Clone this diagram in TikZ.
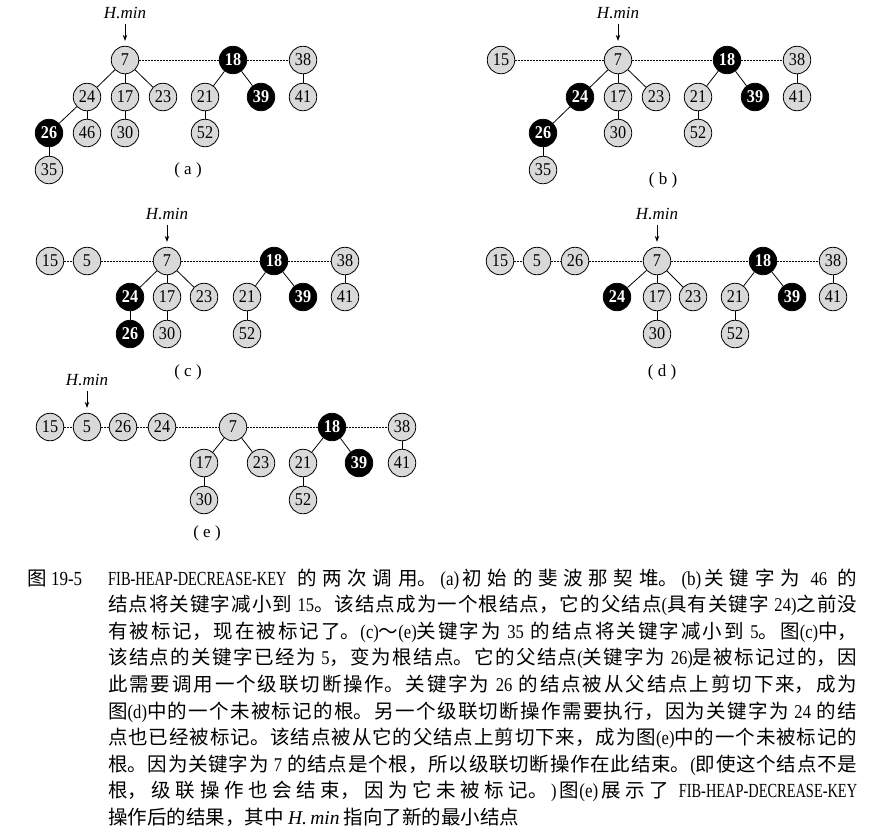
\documentclass[tikz,border=0pt]{standalone}
\usepackage{fontspec}
\setmainfont{Liberation Serif}
\newfontfamily\hzfont{Noto Sans CJK SC}
\newfontfamily\latfont[FakeStretch=0.72]{Liberation Serif}
\newfontfamily\digfont[FakeStretch=0.85]{Liberation Serif}
\newfontfamily\numfont[FakeStretch=0.9]{Liberation Serif}
\usepackage{tikz}
\usetikzlibrary{positioning, arrows.meta}
\XeTeXlinebreaklocale "zh"
\XeTeXlinebreakskip = 0pt plus 2pt

\begin{document}
\begin{tikzpicture}[x=1pt, y=-1pt,
    gnode/.style={circle, draw, fill=black!15, line width=0.8pt, minimum size=27.5pt, inner sep=0pt, font=\numfont\fontsize{18}{18}\selectfont},
    bnode/.style={gnode, fill=black, text=white, font=\numfont\bfseries\fontsize{18}{18}\selectfont},
    tline/.style={line width=0.8pt},
    rline/.style={line width=0.6pt, dash pattern=on 1.8pt off 1.2pt},
    hmin/.style={inner sep=0pt, font=\rmfamily\itshape\fontsize{17}{17}\selectfont},
    hptr/.style={-{Stealth[length=6pt,width=4.5pt]}, line width=0.8pt, shorten <=5pt, shorten >=5pt},
    plabel/.style={inner sep=0pt, font=\rmfamily\fontsize{17}{17}\selectfont},
    capt/.style={inner sep=0pt, anchor=base west, font=\hzfont\fontsize{19.5}{26.6}\selectfont}]
    \useasboundingbox (0,0) rectangle (881,831);
    % (a) 初始的斐波那契堆
    \foreach \n/\x/\y in {7/125/60, 38/303/60, 24/87/97, 17/125/97, 23/163/97, 21/205/97, 41/303/97, 46/87/133, 30/125/133, 52/205/133, 35/49/170} {
        \node[gnode] (a\n) at (\x,\y) {\n};
    }
    \foreach \n/\x/\y in {18/233/60, 39/261/97, 26/49/133} {
        \node[bnode] (a\n) at (\x,\y) {\n};
    }
    \foreach \p/\c in {7/24, 7/17, 7/23, 18/21, 18/39, 38/41, 24/26, 24/46, 17/30, 21/52, 26/35} {
        \draw[tline] (a\p) -- (a\c);
    }
    \foreach \p/\c in {7/18, 18/38} {
        \draw[rline] (a\p) -- (a\c);
    }
    \node[hmin, above=27pt of a7] (ahm) {H.min};
    \draw[hptr] (ahm) -- (a7);
    \node[plabel] (alab) at (188,170) {( a )};
    % (b) 46 减小到 15
    \foreach \n/\x/\y in {15/501/60, 7/618/60, 38/797/60, 17/618/97, 23/656/97, 21/698/97, 41/797/97, 30/618/133, 52/698/133, 35/543/170} {
        \node[gnode] (b\n) at (\x,\y) {\n};
    }
    \foreach \n/\x/\y in {18/727/60, 24/580/97, 39/755/97, 26/543/133} {
        \node[bnode] (b\n) at (\x,\y) {\n};
    }
    \foreach \p/\c in {7/24, 7/17, 7/23, 18/21, 18/39, 38/41, 24/26, 17/30, 21/52, 26/35} {
        \draw[tline] (b\p) -- (b\c);
    }
    \foreach \p/\c in {15/7, 7/18, 18/38} {
        \draw[rline] (b\p) -- (b\c);
    }
    \node[hmin, above=27pt of b7] (bhm) {H.min};
    \draw[hptr] (bhm) -- (b7);
    \node[plabel] (blab) at (663,180) {( b )};
    % (c) 35 减小到 5
    \foreach \n/\x/\y in {15/50/261, 5/87/261, 7/167/261, 38/345/261, 17/167/297, 23/204/297, 21/247/297, 41/345/297, 30/167/334, 52/247/334} {
        \node[gnode] (c\n) at (\x,\y) {\n};
    }
    \foreach \n/\x/\y in {18/274/261, 24/130/297, 39/303/297, 26/130/334} {
        \node[bnode] (c\n) at (\x,\y) {\n};
    }
    \foreach \p/\c in {7/24, 7/17, 7/23, 18/21, 18/39, 38/41, 24/26, 17/30, 21/52} {
        \draw[tline] (c\p) -- (c\c);
    }
    \foreach \p/\c in {15/5, 5/7, 7/18, 18/38} {
        \draw[rline] (c\p) -- (c\c);
    }
    \node[hmin, above=27pt of c7] (chm) {H.min};
    \draw[hptr] (chm) -- (c7);
    \node[plabel] (clab) at (188,372) {( c )};
    % (d) 26 被剪切
    \foreach \n/\x/\y in {15/500/261, 5/537/261, 26/575/261, 7/657/261, 38/833/261, 17/657/297, 23/693/297, 21/735/297, 41/833/297, 30/657/334, 52/735/334} {
        \node[gnode] (d\n) at (\x,\y) {\n};
    }
    \foreach \n/\x/\y in {18/763/261, 24/617/297, 39/792/297} {
        \node[bnode] (d\n) at (\x,\y) {\n};
    }
    \foreach \p/\c in {7/24, 7/17, 7/23, 18/21, 18/39, 38/41, 17/30, 21/52} {
        \draw[tline] (d\p) -- (d\c);
    }
    \foreach \p/\c in {15/5, 5/26, 26/7, 7/18, 18/38} {
        \draw[rline] (d\p) -- (d\c);
    }
    \node[hmin, above=27pt of d7] (dhm) {H.min};
    \draw[hptr] (dhm) -- (d7);
    \node[plabel] (dlab) at (662,372) {( d )};
    % (e) 24 被剪切
    \foreach \n/\x/\y in {15/50/427, 5/87/427, 26/123/427, 24/162/427, 7/233/427, 38/402/427, 17/204/463, 23/261/463, 21/303/463, 41/402/463, 30/204/500, 52/303/500} {
        \node[gnode] (e\n) at (\x,\y) {\n};
    }
    \foreach \n/\x/\y in {18/332/427, 39/359/463} {
        \node[bnode] (e\n) at (\x,\y) {\n};
    }
    \foreach \p/\c in {7/17, 7/23, 18/21, 18/39, 38/41, 17/30, 21/52} {
        \draw[tline] (e\p) -- (e\c);
    }
    \foreach \p/\c in {15/5, 5/26, 26/24, 24/7, 7/18, 18/38} {
        \draw[rline] (e\p) -- (e\c);
    }
    \node[hmin, above=27pt of e5] (ehm) {H.min};
    \draw[hptr] (ehm) -- (e5);
    \node[plabel] (elab) at (207,533) {( e )};
    % 图注
    \node[capt] (capnum) at (27,585) {图 {\digfont\fontsize{20}{20}\selectfont 19-5}};
    \node[capt, text width=749pt, align=justify] (captext) at (108,585) {{\latfont\fontsize{20}{20}\selectfont FIB-HEAP-DECREASE-KEY} 的两次调用。{\digfont\fontsize{20}{20}\selectfont\,(a)\,}初始的斐波那契堆。{\digfont\fontsize{20}{20}\selectfont\,(b)\,}关键字为 {\digfont 46} 的\linebreak
结点将关键字减小到 {\digfont 15}。该结点成为一个根结点，它的父结点{\digfont (}具有关键字 {\digfont 24)}之前没\linebreak
有被标记，现在被标记了。{\digfont (c)}～{\digfont (e)}关键字为 {\digfont 35} 的结点将关键字减小到 {\digfont 5}。图{\digfont (c)}中，\linebreak
该结点的关键字已经为 {\digfont 5}，变为根结点。它的父结点{\digfont (}关键字为 {\digfont 26)}是被标记过的，因\linebreak
此需要调用一个级联切断操作。关键字为 {\digfont 26} 的结点被从父结点上剪切下来，成为\linebreak
图{\digfont (d)}中的一个未被标记的根。另一个级联切断操作需要执行，因为关键字为 {\digfont 24} 的结\linebreak
点也已经被标记。该结点被从它的父结点上剪切下来，成为图{\digfont (e)}中的一个未被标记的\linebreak
根。因为关键字为 {\digfont 7} 的结点是个根，所以级联切断操作在此结束。{\digfont (}即使这个结点不是\linebreak
根，级联操作也会结束，因为它未被标记。{\digfont\,)\,}图{\digfont\fontsize{20}{20}\selectfont (e)\,}展示了 {\latfont\fontsize{20}{20}\selectfont FIB-HEAP-DECREASE-KEY}\linebreak
操作后的结果，其中 {\rmfamily\itshape H.\,min} 指向了新的最小结点};
\end{tikzpicture}
\end{document}
